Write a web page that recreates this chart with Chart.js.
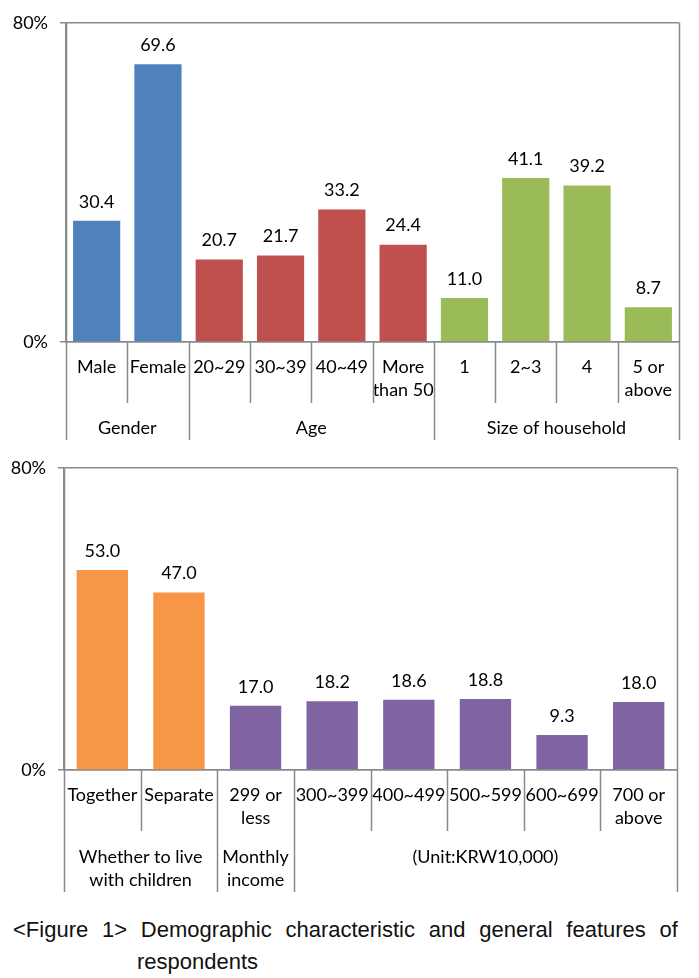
<!DOCTYPE html>
<html>
<head>
<meta charset="utf-8">
<script src="https://cdn.jsdelivr.net/npm/chart.js@4.4.1/dist/chart.umd.min.js"></script>
<style>
    body { margin: 0; background: #fff; width: 699px; height: 978px; position: relative; overflow: hidden; }
    canvas { position: absolute; left: 0; }
    #topChart { top: 0; }
    #bottomChart { top: 445px; }
    #caption {
        position: absolute; left: 13px; top: 914px; width: 665px;
        font-family: "Liberation Sans", Arial, sans-serif;
        font-size: 22px; line-height: 32px; color: #111;
    }
    #caption .line1 { display: flex; justify-content: space-between; white-space: nowrap; }
    #caption .line2 { padding-left: 124px; }
</style>
</head>
<body>
<canvas id="topChart" width="699" height="445"></canvas>
<canvas id="bottomChart" width="699" height="455"></canvas>
<div id="caption">
    <div class="line1"><span>&lt;Figure</span><span>1&gt;</span><span>Demographic</span><span>characteristic</span><span>and</span><span>general</span><span>features</span><span>of</span></div>
    <div class="line2">respondents</div>
</div>

<script>
// ---- top chart data ----
const topLabels = [['Male'], ['Female'], ['20~29'], ['30~39'], ['40~49'], ['More', 'than 50'],
    ['1'], ['2~3'], ['4'], ['5 or', 'above']];
const topValues = [30.4, 69.6, 20.7, 21.7, 33.2, 24.4, 11.0, 41.1, 39.2, 8.7];
const topGroups = [['Gender'], ['Age'], ['Size of household']];
const topGroupSizes = [2, 4, 4];
const topGroupColors = ['#4F81BD', '#C0504D', '#9BBB59'];

// ---- bottom chart data ----
const bottomLabels = [['Together'], ['Separate'], ['299 or', 'less'], ['300~399'], ['400~499'],
    ['500~599'], ['600~699'], ['700 or', 'above']];
const bottomValues = [53.0, 47.0, 17.0, 18.2, 18.6, 18.8, 9.3, 18.0];
const bottomGroups = [['Whether to live', 'with children'], ['Monthly', 'income'], ['(Unit:KRW10,000)']];
const bottomGroupSizes = [2, 1, 5];
const bottomGroupColors = ['#F79646', '#8064A2', '#8064A2'];

// ---- y axis ticks ----
const yMin = 0;
const yMax = 80;

const FONT = 'Lato, "Open Sans", sans-serif';
const LINE = '#8a8a8a';

/* one colour per bar, taken from its group */
const colorsFor = (sizes, groupColors) => {
    let out = [];
    sizes.forEach((n, g) => {
        for (let i = 0; i < n; i++) out.push(groupColors[g]);
    });
    return out;
};

/* Draws the value above each bar */
const valueLabels = {
    id: 'valueLabels',
    afterDatasetsDraw(chart) {
        const ctx = chart.ctx;
        const meta = chart.getDatasetMeta(0);
        const values = chart.data.datasets[0].data;
        ctx.save();
        ctx.font = '18px ' + FONT;
        ctx.fillStyle = '#000';
        ctx.textAlign = 'center';
        ctx.textBaseline = 'middle';
        meta.data.forEach((bar, i) => {
            ctx.fillText(values[i].toFixed(1), bar.x, bar.y - 19);
        });
        ctx.restore();
    }
};

/* Draws the category separators, group separators and group names under the x axis */
const multiLevel = {
    id: 'multiLevel',
    afterDraw(chart, args, opts) {
        const ctx = chart.ctx;
        const area = chart.chartArea;
        const x = chart.scales.x;
        const n = chart.data.labels.length;

        // boundaries between categories
        let edges = [area.left];
        for (let i = 1; i < n; i++) {
            edges.push((x.getPixelForValue(i - 1) + x.getPixelForValue(i)) / 2);
        }
        edges.push(area.right);

        // which boundaries close a group
        let groupEdges = [0];
        let acc = 0;
        opts.sizes.forEach(s => { acc += s; groupEdges.push(acc); });

        ctx.save();
        ctx.strokeStyle = LINE;
        ctx.lineWidth = 1.5;
        ctx.beginPath();
        edges.forEach((px, i) => {
            const isGroup = groupEdges.includes(i);
            let top = area.bottom;
            if (i === 0 || i === n) top = area.top;
            const bottom = area.bottom + (isGroup ? opts.groupLen : opts.tickLen);
            ctx.moveTo(Math.round(px) + 0.5, top);
            ctx.lineTo(Math.round(px) + 0.5, bottom);
        });
        ctx.stroke();

        // group names
        ctx.font = '18px ' + FONT;
        ctx.fillStyle = '#000';
        ctx.textAlign = 'center';
        ctx.textBaseline = 'middle';
        opts.groups.forEach((lines, g) => {
            const cx = (edges[groupEdges[g]] + edges[groupEdges[g + 1]]) / 2;
            lines.forEach((t, k) => {
                ctx.fillText(t, cx, area.bottom + opts.groupY + k * 23);
            });
        });
        ctx.restore();
    }
};

/* Builds one of the two bar charts */
const buildChart = (id, labels, values, colors, barPct, pad, axisWidth, axisHeight, ml) => {
    const data = {
        labels: labels,
        datasets: [{
            data: values,
            backgroundColor: colors,
            borderWidth: 0,
            barPercentage: barPct,
            categoryPercentage: 1
        }]
    };

    const config = {
        type: 'bar',
        data: data,
        options: {
            responsive: false,
            animation: false,
            devicePixelRatio: 1,
            layout: { padding: pad },
            plugins: {
                legend: { display: false },
                tooltip: { enabled: false },
                multiLevel: ml
            },
            scales: {
                x: {
                    grid: { display: false },
                    border: { display: true, color: LINE, width: 1.5 },
                    ticks: {
                        color: '#000',
                        font: { family: FONT, size: 18, lineHeight: 1.3 },
                        padding: 5,
                        maxRotation: 0,
                        autoSkip: false
                    },
                    afterFit: (scale) => { scale.height = axisHeight; }
                },
                y: {
                    min: yMin,
                    max: yMax,
                    grid: { color: LINE, lineWidth: 1.5, tickLength: 6 },
                    border: { display: true, color: LINE, width: 1.5 },
                    ticks: {
                        stepSize: yMax - yMin,
                        color: '#000',
                        font: { family: FONT, size: 18 },
                        padding: 12,
                        callback: (v) => v + '%'
                    },
                    afterFit: (scale) => { scale.width = axisWidth; }
                }
            }
        },
        plugins: [valueLabels, multiLevel]
    };

    const ctx = document.getElementById(id).getContext('2d');
    return new Chart(ctx, config);
};

const init = () => {
    buildChart('topChart', topLabels, topValues, colorsFor(topGroupSizes, topGroupColors), 0.77,
        { left: 0, right: 20, top: 20, bottom: 0 }, 66, 103,
        { groups: topGroups, sizes: topGroupSizes, tickLen: 61, groupLen: 98, groupY: 86 });

    buildChart('bottomChart', bottomLabels, bottomValues, colorsFor(bottomGroupSizes, bottomGroupColors), 0.67,
        { left: 0, right: 22, top: 23, bottom: 0 }, 64, 130,
        { groups: bottomGroups, sizes: bottomGroupSizes, tickLen: 61, groupLen: 122, groupY: 87 });
};

document.addEventListener("DOMContentLoaded", () => {
    init();
});
</script>
</body>
</html>
